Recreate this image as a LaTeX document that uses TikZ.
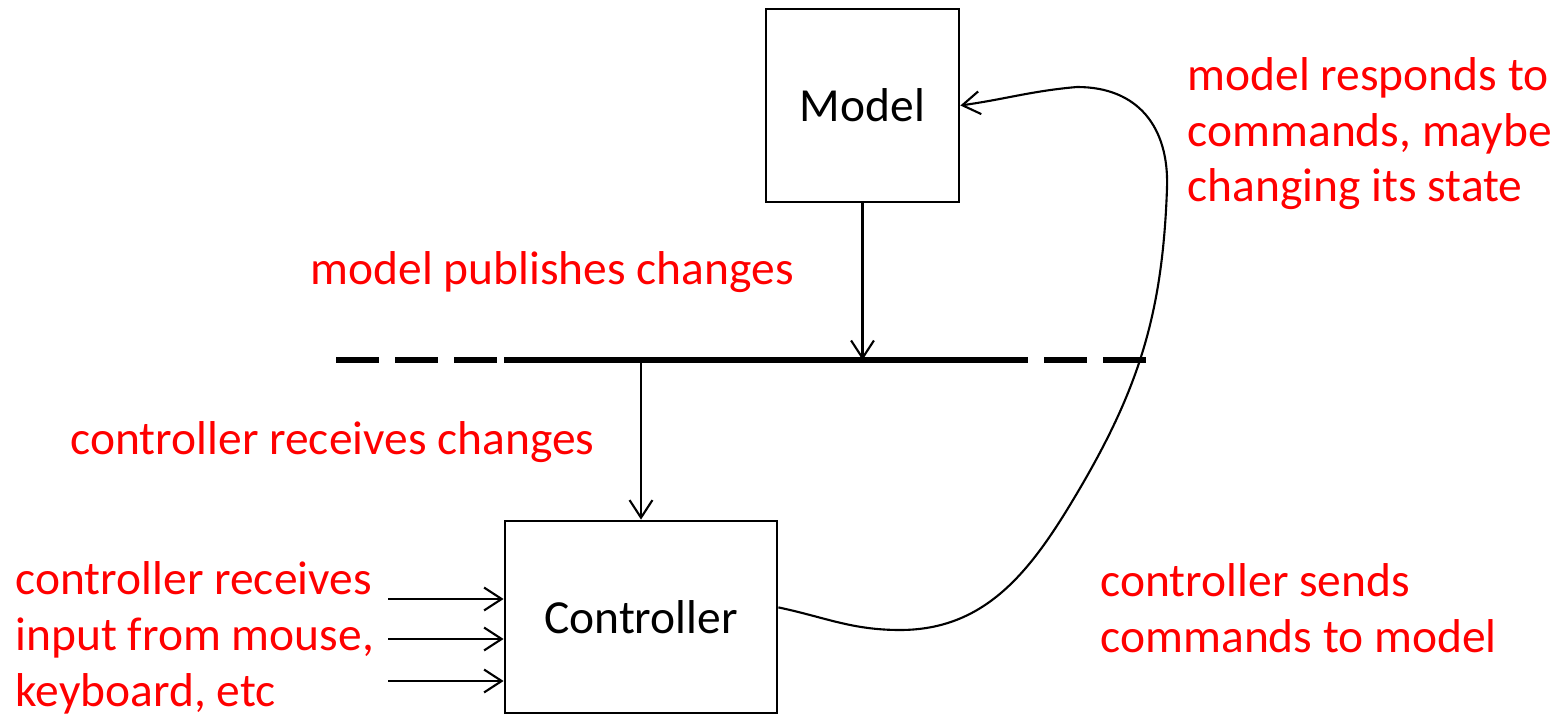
\documentclass[tikz,border=0pt]{standalone}
\usepackage{fontspec}
\setmainfont{Carlito}
\usetikzlibrary{arrows.meta,positioning,calc}

\begin{document}
\begin{tikzpicture}
[x=0.01cm,y=0.01cm,>={Straight Barb[length=5pt,width=6.5pt]},
every node/.style={font=\fontsize{13.5}{15.9}\selectfont},
box/.style={draw,line width=0.75pt,inner sep=0pt},
link/.style={->,line width=0.6pt},
bus/.style={line width=1.45pt},
note/.style={text=red,align=left,anchor=base west,inner sep=0pt}]
\useasboundingbox (0,0) rectangle (1564,718);
\node [box,minimum width=1.93cm,minimum height=1.93cm] (model) at (862.5,612.5) {Model};
\node [box,minimum width=2.72cm,minimum height=1.92cm] (ctrl) at (641,101) {Controller};
% event bus
\coordinate (busL) at (336,358);
\coordinate (busR) at (1160,358);
\coordinate (solidL) at (504,358);
\coordinate (solidR) at (1025,358);
\coordinate (pub) at (862.5,358);
\coordinate (recv) at (641,358);
\draw [bus,dash pattern=on 0.43cm off 0.16cm] (busL) -- (busR);
\draw [bus] (solidL) -- (solidR);
\draw [link] (model) -- (pub);
\draw [link] (recv) -- (ctrl);
% input from mouse, keyboard
\coordinate (in1) at (388,119);
\coordinate (in2) at (388,79);
\coordinate (in3) at (388,37);
\draw [link] (in1) -- (in1 -| ctrl.west);
\draw [link] (in2) -- (in2 -| ctrl.west);
\draw [link] (in3) -- (in3 -| ctrl.west);
% commands back to the model
\coordinate (low) at (900,88);
\coordinate (mid) at (1073,218);
\coordinate (side) at (1167,530);
\coordinate (top) at (1077,631);
\draw [link] (ctrl.4) to [out=-12,in=180] (low)
  to [out=0,in=-121] (mid)
  to [out=59,in=-92] (side)
  to [out=88,in=0,looseness=1.15] (top)
  to [out=185,in=8] (model.east);
\node [note] (respond) at (1187,516) {model responds to\\commands, maybe\\changing its state};
\node [note] (publish) at (310,433) {model publishes changes};
\node [note] (receive) at (70,263) {controller receives changes};
\node [note] (input) at (15,12) {controller receives\\input from mouse,\\keyboard, etc};
\node [note] (send) at (1100,66) {controller sends\\commands to model};
\end{tikzpicture}
\end{document}
